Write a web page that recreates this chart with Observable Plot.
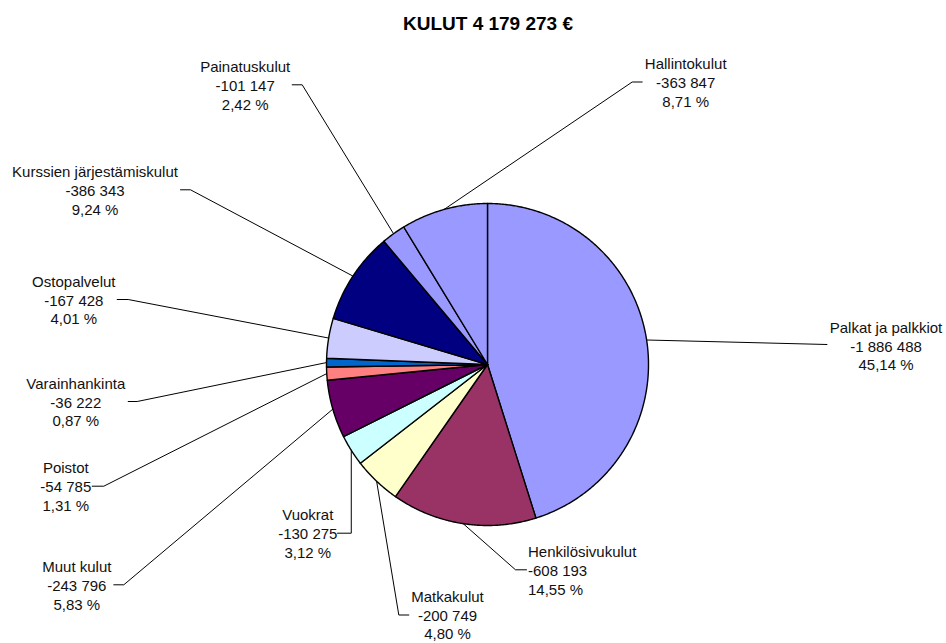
<!DOCTYPE html>
<html><head><meta charset="utf-8">
<script src="https://cdn.jsdelivr.net/npm/d3@7"></script>
<script src="https://cdn.jsdelivr.net/npm/@observablehq/plot@0.6"></script>
<style>
body{margin:0;background:#fff;font-family:"Liberation Sans",Arial,sans-serif;}
#wrap{position:relative;width:946px;height:643px;overflow:hidden;}
#title{position:absolute;left:0;top:13px;width:946px;padding-left:30px;box-sizing:border-box;text-align:center;font-weight:bold;font-size:19px;line-height:22px;color:#000;}
#chart{position:absolute;left:0;top:0;}
</style></head><body>
<div id="wrap"><div id="chart"></div><div id="title">KULUT 4 179 273 €</div></div>
<script>
// ---- data ----
const categories = ["Palkat ja palkkiot","Henkilösivukulut","Matkakulut","Vuokrat","Muut kulut","Poistot","Varainhankinta","Ostopalvelut","Kurssien järjestämiskulut","Painatuskulut","Hallintokulut"];
const values = [-1886488,-608193,-200749,-130275,-243796,-54785,-36222,-167428,-386343,-101147,-363847];
const percentLabels = ["45,14 %","14,55 %","4,80 %","3,12 %","5,83 %","1,31 %","0,87 %","4,01 %","9,24 %","2,42 %","8,71 %"];
const valueLabels = ["-1 886 488","-608 193","-200 749","-130 275","-243 796","-54 785","-36 222","-167 428","-386 343","-101 147","-363 847"];
const colors = ["#9999FF","#993366","#FFFFCC","#CCFFFF","#660066","#FF8080","#0066CC","#CCCCFF","#000080","#9999FF","#9999FF"];

// ---- layout (page pixel space) ----
const CX = 487, CY = 364, R = 161;
// label anchor (tx,ty = centre of middle text line), leader elbow (ex,ey) and leader end (kx)
const labelLayout = [
  {tx:885.5, ty:345,   anchor:"middle", ex:826.7, ey:344,   kx:826.7},
  {tx:527.5, ty:569.3, anchor:"start",  ex:515,   ey:569.3, kx:526},
  {tx:447,   ty:614,   anchor:"middle", ex:398.3, ey:614.5, kx:408.3},
  {tx:307.3, ty:532.7, anchor:"middle", ex:null,  ey:532.7, kx:337},
  {tx:76.3,  ty:584.3, anchor:"middle", ex:123.3, ey:584.3, kx:113.3},
  {tx:65.3,  ty:485.7, anchor:"middle", ex:103.3, ey:485.7, kx:91.7},
  {tx:75.3,  ty:401,   anchor:"middle", ex:136.7, ey:401,   kx:127.7},
  {tx:73.3,  ty:299,   anchor:"middle", ex:127.7, ey:299,   kx:116.7},
  {tx:94.5,  ty:189.3, anchor:"middle", ex:190,   ey:189.3, kx:180},
  {tx:244.7, ty:84.3,  anchor:"middle", ex:301.7, ey:84.3,  kx:291.7},
  {tx:685.2, ty:81.5,  anchor:"middle", ex:631.7, ey:81.5,  kx:641.7}
];

const mags = values.map(v => Math.abs(v));
const arcs = d3.pie().sort(null).value(d => d)(mags);

const slicePts = [];
arcs.forEach((a, i) => {
  const n = Math.max(2, Math.ceil((a.endAngle - a.startAngle) / (Math.PI / 360)));
  slicePts.push({k: i, x: CX, y: CY});
  for (let j = 0; j <= n; j++) {
    const t = a.startAngle + (a.endAngle - a.startAngle) * j / n;
    slicePts.push({k: i, x: CX + R * Math.sin(t), y: CY - R * Math.cos(t)});
  }
  slicePts.push({k: i, x: CX, y: CY});
});

const leaderPts = [];
const labels = [];
arcs.forEach((a, i) => {
  const m = (a.startAngle + a.endAngle) / 2;
  const sx = CX + R * Math.sin(m), sy = CY - R * Math.cos(m);
  const L = labelLayout[i];
  const ex = L.ex === null ? sx : L.ex;
  leaderPts.push({k: i, x: sx, y: sy});
  leaderPts.push({k: i, x: ex, y: L.ey});
  leaderPts.push({k: i, x: L.kx, y: L.ey});
  labels.push({x: L.tx, y: L.ty, anchor: L.anchor,
    text: categories[i] + "\n" + valueLabels[i] + "\n" + percentLabels[i]});
});

const chart = Plot.plot({
  width: 946, height: 643,
  margin: 0,
  x: {domain: [0, 946], range: [0, 946], axis: null},
  y: {domain: [0, 643], range: [0, 643], axis: null},
  color: {type: "identity"},
  style: {fontFamily: '"Liberation Sans", Arial, sans-serif', background: "#fff"},
  marks: [
    Plot.line(leaderPts, {x: "x", y: "y", z: "k", stroke: "#000", strokeWidth: 1, curve: "linear"}),
    Plot.line(slicePts, {x: "x", y: "y", z: "k", fill: d => colors[d.k], stroke: "#000", strokeWidth: 1.4, strokeLinejoin: "round", curve: "linear"}),
    Plot.text(labels.filter(d => d.anchor === "middle"), {x: "x", y: "y", text: "text", textAnchor: "middle", lineAnchor: "middle", lineHeight: 1.25, fontSize: 15, fill: "#111"}),
    Plot.text(labels.filter(d => d.anchor === "start"), {x: "x", y: "y", text: "text", textAnchor: "start", lineAnchor: "middle", lineHeight: 1.25, fontSize: 15, fill: "#111"})
  ]
});
document.getElementById("chart").appendChild(chart);
</script>
</body></html>
